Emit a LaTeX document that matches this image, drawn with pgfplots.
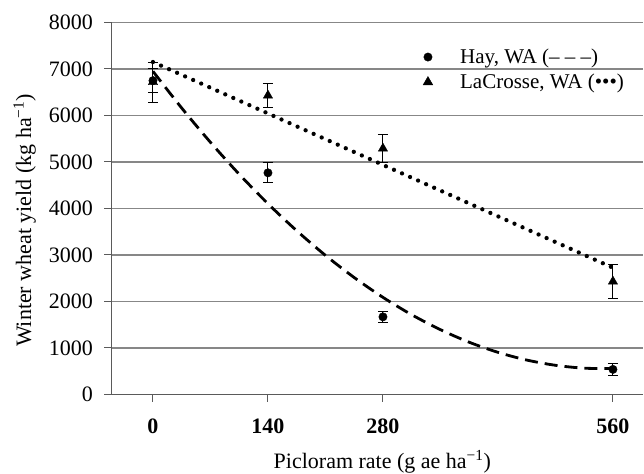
\documentclass[border=0pt]{standalone}
\usepackage{fontspec}
\setmainfont{Liberation Serif}
\usepackage{pgfplots}
\pgfplotsset{compat=1.18}
\definecolor{axisgray}{RGB}{90,90,90}
\definecolor{gridgray}{RGB}{135,135,135}
\begin{document}
\begin{tikzpicture}[x=1pt,y=1pt]
\useasboundingbox (0,0) rectangle (644,473);
\begin{axis}[
  at={(111pt,78.5pt)}, anchor=south west,
  scale only axis, width=532pt, height=372pt,
  xmin=-51.1, xmax=596.6, ymin=0, ymax=8000,
  axis x line=bottom, axis y line=left,
  axis line style={-, draw=axisgray, line width=1pt},
  xtick={0,140,280,560}, ytick={0,1000,...,8000},
  ymajorgrids, grid style={gridgray, line width=1.3pt},
  tick align=outside, major tick length=7pt,
  tick style={axisgray, line width=1pt},
  /pgf/number format/assume math mode=true,
  /pgf/number format/1000 sep={},
  yticklabel style={font=\fontsize{22}{26}\selectfont, inner sep=0pt, xshift=-11pt},
  xticklabel style={font=\fontsize{22}{26}\selectfont\bfseries, inner sep=0pt, yshift=-17pt},
  xlabel={Picloram rate (g ae ha\textsuperscript{−1})},
  ylabel={Winter wheat yield (kg ha\textsuperscript{−1})},
  xlabel style={font=\fontsize{22}{26}\selectfont, at={(axis description cs:0.51,-0.198)}, anchor=base},
  ylabel style={font=\fontsize{22}{26}\selectfont, at={(axis description cs:-0.150,0.468)}, anchor=base, rotate=0},
  legend style={draw=none, fill=none, font=\fontsize{21}{25}\selectfont,
    at={(axis description cs:0.58,0.94)}, anchor=north west,
    row sep=5pt, nodes={inner sep=2pt}},
  legend cell align=left,
  legend image code/.code={\draw[#1] plot coordinates {(0pt,0pt)}; \path (-5pt,0pt) (30pt,0pt);},
]
% dashed fitted curve (Hay)
\addplot[black, line width=2.8pt, dash pattern=on 13pt off 7pt, smooth, forget plot] coordinates {
(0,6950) (35,6160) (70,5423) (105,4737) (140,4103) (175,3522) (210,2992) (245,2515)
(280,2089) (315,1715) (350,1394) (385,1124) (420,907) (455,741) (490,628) (525,566) (560,557)};
% dotted fitted curve (LaCrosse)
\addplot[black, line width=4.3pt, line cap=round, dash pattern=on 0pt off 8.8pt, forget plot] coordinates {
(0,7150) (140,6044) (280,4938) (420,3832) (560,2726)};
% Hay points
\addplot[black, only marks, mark=*, mark size=4.2pt, forget plot,
  error bars/.cd, y dir=both, y explicit,
  error bar style={line width=1pt, black},
  error mark options={rotate=90, mark size=5pt, line width=1pt, black}]
  coordinates {(0,6750) +- (0,260) (140,4767) +- (0,215) (280,1670) +- (0,115) (560,540) +- (0,130)};
% LaCrosse points
\addplot[black, only marks, mark=triangle*, mark size=5.4pt, forget plot,
  error bars/.cd, y dir=both, y explicit,
  error bar style={line width=1pt, black},
  error mark options={rotate=90, mark size=5pt, line width=1pt, black}]
  coordinates {(0,6720) +- (0,430) (140,6430) +- (0,260) (280,5290) +- (0,300) (560,2430) +- (0,360)};
\addlegendimage{black, only marks, mark=*, mark size=4.2pt}
\addlegendentry{Hay, WA (– – –)}
\addlegendimage{black, only marks, mark=triangle*, mark size=5.6pt}
\addlegendentry{LaCrosse, WA (•••)}
\end{axis}
\end{tikzpicture}
\end{document}
